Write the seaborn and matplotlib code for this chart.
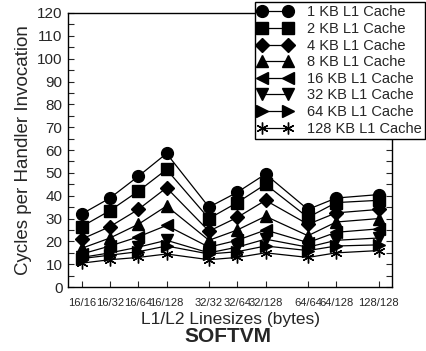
import matplotlib
matplotlib.use("Agg")
import matplotlib.pyplot as plt
from matplotlib.lines import Line2D
from matplotlib.ticker import MultipleLocator
import numpy as np
import pandas as pd
import seaborn as sns

# Cache line-size configurations, grouped by L1 line size
linesizes = ["16/16", "16/32", "16/64", "16/128",
             "32/32", "32/64", "32/128",
             "64/64", "64/128",
             "128/128"]
l1_group = [0, 0, 0, 0, 1, 1, 1, 2, 2, 3]

series_names = ["1 KB L1 Cache", "2 KB L1 Cache", "4 KB L1 Cache",
                "8 KB L1 Cache", "16 KB L1 Cache", "32 KB L1 Cache",
                "64 KB L1 Cache", "128 KB L1 Cache"]

cycles_1kb = [32, 39, 48.5, 58.5, 35, 41.5, 49.5, 34, 39, 40.5]
cycles_2kb = [26.5, 33.5, 42, 51.5, 30, 37, 45, 30.5, 37, 38]
cycles_4kb = [21, 26.5, 34, 43.5, 24.5, 30.5, 38, 27.5, 32.5, 34]
cycles_8kb = [17, 21.5, 27.5, 35.5, 20.5, 25, 31, 22.5, 28.5, 30]
cycles_16kb = [14.5, 18, 22, 27, 17.5, 20.5, 25, 19.5, 24, 25.5]
cycles_32kb = [13, 15, 17.5, 20.5, 15, 17.5, 21, 17.5, 20.5, 21.5]
cycles_64kb = [12.5, 14, 15.5, 18, 14.5, 15.5, 18, 16, 18, 18.5]
cycles_128kb = [10.5, 12, 13, 14.5, 12, 13, 15, 13, 15, 16]

all_cycles = [cycles_1kb, cycles_2kb, cycles_4kb, cycles_8kb,
              cycles_16kb, cycles_32kb, cycles_64kb, cycles_128kb]

marker_shapes = ["o", "s", "D", "^", "<", "v", ">", (6, 2, 0)]
marker_sizes = [8.5, 8, 7.5, 9, 9, 9, 9, 8.5]

sns.set_style("white")
plt.rcParams["font.family"] = ["Liberation Sans", "DejaVu Sans"]

# x position: one slot per configuration, with an extra half slot between L1 groups
positions = [i + 0.5 * g for i, g in enumerate(l1_group)]

rows = []
for name, vals in zip(series_names, all_cycles):
    for pos, v in zip(positions, vals):
        rows.append({"pos": pos, "series": name, "cycles": v})
df = pd.DataFrame(rows)

fig = plt.figure(figsize=(4.26, 3.51), dpi=100)
ax = fig.add_axes([0.160, 0.182, 0.760, 0.781])

for name, m, ms in zip(series_names, marker_shapes, marker_sizes):
    sub = df[df["series"] == name]
    sns.lineplot(data=sub, x="pos", y="cycles",
                 estimator=None, sort=True, color="black",
                 marker=m, markersize=ms, linewidth=0.9,
                 markerfacecolor="black", markeredgecolor="black",
                 markeredgewidth=1.0, legend=False, ax=ax)

ax.set_xlim(-0.48, 10.97)
ax.set_ylim(0, 120)
ax.yaxis.set_major_locator(MultipleLocator(10))
ax.yaxis.set_minor_locator(MultipleLocator(5))
ax.set_xticks(positions)
ax.set_xticklabels(linesizes, fontsize=8)
ax.tick_params(axis="y", which="both", direction="in", length=4, width=0.8,
               left=True, right=True, labelsize=11, pad=4)
ax.tick_params(axis="x", direction="in", length=4, width=0.8,
               bottom=True, top=False, pad=8)
for s in ax.spines.values():
    s.set_color("black")
    s.set_linewidth(1.0)

ax.set_xlabel("L1/L2 Linesizes (bytes)", fontsize=12.5, labelpad=3)
ax.set_ylabel("Cycles per Handler Invocation", fontsize=13.5, labelpad=4)
fig.text(0.535, 1 - 337 / 351, "SOFTVM", ha="center", va="center",
         fontsize=15, fontweight="bold")

handles = [Line2D([], [], color="black", linewidth=0.9, marker=m,
                  markersize=ms, markerfacecolor="black",
                  markeredgecolor="black", markeredgewidth=1.0)
           for m, ms in zip(marker_shapes, marker_sizes)]
leg = ax.legend(handles, series_names, loc="upper right",
                bbox_to_anchor=(0.997, 0.993), bbox_transform=fig.transFigure,
                borderaxespad=0, numpoints=2, handlelength=2.4,
                handletextpad=1.0, labelspacing=0.18, borderpad=0.2,
                fontsize=10.5, frameon=True, fancybox=False,
                framealpha=1, edgecolor="black")
leg.get_frame().set_linewidth(1.0)

fig.savefig("out.png", dpi=100)
